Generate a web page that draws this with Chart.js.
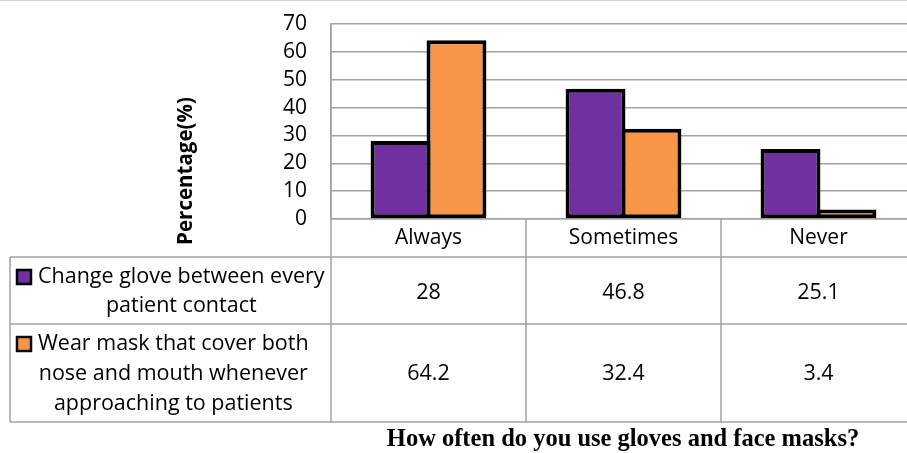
<!DOCTYPE html>
<html>
<head>
<meta charset="utf-8">
<script src="https://cdn.jsdelivr.net/npm/chart.js@4.4.1/dist/chart.umd.min.js"></script>
<style>
  html, body { margin: 0; padding: 0; overflow: hidden; background: #fff; width: 907px; height: 453px; }
  canvas { display: block; }
</style>
</head>
<body>
<canvas id="c" width="916" height="453" style="width:916px;height:453px"></canvas>
<script>
// Survey answers (percent of respondents)
const categories = ['Always', 'Sometimes', 'Never'];
const gloveValues = [28, 46.8, 25.1];
const maskValues = [64.2, 32.4, 3.4];
const gloveLabel = ['Change glove between every', 'patient contact'];
const maskLabel = ['Wear mask that cover both', 'nose and mouth whenever', 'approaching to patients'];
const yMin = 0, yMax = 70, yStep = 10;
const yTitle = 'Percentage(%)';
const chartTitle = 'How often do you use gloves and face masks?';

const PURPLE = '#7030A0';
const ORANGE = '#F79646';
const LINE = '#a3a3a3';
const SANS = '"Open Sans", sans-serif';

// Data table under the axis, the rotated axis title and the caption
const tablePlugin = {
  id: 'dataTable',
  afterDraw(chart) {
    const ctx = chart.ctx;
    const area = chart.chartArea;
    const x = chart.scales.x;
    const n = categories.length;
    const cw = (area.right - area.left) / n;
    const headBottom = 257, row1Bottom = 324, row2Bottom = 422, tableLeft = 10;

    ctx.save();
    ctx.strokeStyle = LINE;
    ctx.lineWidth = 1.5;
    ctx.beginPath();
    // horizontal rules
    [headBottom, row1Bottom, row2Bottom].forEach(y => {
      ctx.moveTo(tableLeft, y); ctx.lineTo(chart.width, y);
    });
    // left edge of legend column
    ctx.moveTo(tableLeft, headBottom); ctx.lineTo(tableLeft, row2Bottom);
    // plot left edge continues through the table
    ctx.moveTo(area.left, area.top); ctx.lineTo(area.left, row2Bottom);
    // column separators
    for (let i = 1; i <= n; i++) {
      const bx = area.left + cw * i;
      ctx.moveTo(bx, area.bottom); ctx.lineTo(bx, row2Bottom);
    }
    ctx.stroke();
    // faint frame line at the very top
    ctx.strokeStyle = '#d4d4d4';
    ctx.lineWidth = 1;
    ctx.beginPath(); ctx.moveTo(0, 0.5); ctx.lineTo(chart.width, 0.5); ctx.stroke();

    // values
    ctx.fillStyle = '#000';
    ctx.font = '21.5px ' + SANS;
    ctx.textAlign = 'center';
    ctx.textBaseline = 'middle';
    const r1c = (headBottom + row1Bottom) / 2 + 2;
    const r2c = (row1Bottom + row2Bottom) / 2 + 1;
    for (let i = 0; i < n; i++) {
      const cx = x.getPixelForValue(i);
      ctx.fillText(String(gloveValues[i]), cx, r1c);
      ctx.fillText(String(maskValues[i]), cx, r2c);
    }

    // legend entries
    const drawEntry = (lines, color, centerY, lh) => {
      const textLeft = 38;
      const maxW = Math.max(...lines.map(l => ctx.measureText(l).width));
      const top = centerY - lh * (lines.length - 1) / 2;
      ctx.fillStyle = color;
      ctx.strokeStyle = '#000';
      ctx.lineWidth = 2.5;
      ctx.fillRect(17, top - 7, 14, 14);
      ctx.strokeRect(17, top - 7, 14, 14);
      ctx.fillStyle = '#000';
      ctx.textAlign = 'center';
      lines.forEach((l, k) => ctx.fillText(l, textLeft + maxW / 2, top + k * lh));
    };
    drawEntry(gloveLabel, PURPLE, r1c - 1, 29);
    drawEntry(maskLabel, ORANGE, r2c, 30);

    // axis title
    ctx.save();
    ctx.translate(186, 171);
    ctx.rotate(-Math.PI / 2);
    ctx.font = 'bold 20.5px ' + SANS;
    ctx.textAlign = 'center';
    ctx.textBaseline = 'middle';
    ctx.fillText(yTitle, 0, 0);
    ctx.restore();

    // caption
    ctx.font = 'bold 24.5px "Liberation Serif", "Times New Roman", serif';
    ctx.textAlign = 'center';
    ctx.textBaseline = 'middle';
    ctx.fillText(chartTitle, 623, 440);
    ctx.restore();
  }
};

new Chart(document.getElementById('c'), {
  type: 'bar',
  data: {
    labels: categories,
    datasets: [
      { label: gloveLabel.join(' '), data: gloveValues, backgroundColor: PURPLE,
        borderColor: '#000', borderWidth: 4, borderSkipped: false,
        categoryPercentage: 0.574, barPercentage: 1.07 },
      { label: maskLabel.join(' '), data: maskValues, backgroundColor: ORANGE,
        borderColor: '#000', borderWidth: 4, borderSkipped: false,
        categoryPercentage: 0.574, barPercentage: 1.07 }
    ]
  },
  options: {
    responsive: false,
    animation: false,
    devicePixelRatio: 1,
    layout: { padding: { top: 24, left: 0, right: 0, bottom: 0 } },
    plugins: { legend: { display: false }, tooltip: { enabled: false }, title: { display: false } },
    scales: {
      x: {
        grid: { display: false, drawTicks: false },
        border: { display: true, color: LINE, width: 1.5 },
        ticks: { color: '#000', font: { family: SANS, size: 21 }, padding: 6, maxRotation: 0 },
        afterFit(s) { s.height = 453 - 219; }
      },
      y: {
        min: yMin, max: yMax,
        grid: { color: LINE, lineWidth: 1.5, drawTicks: false },
        border: { display: true, color: LINE, width: 1.5 },
        ticks: { stepSize: yStep, autoSkip: false, color: '#000', font: { family: SANS, size: 21 }, padding: 24 },
        afterFit(s) { s.width = 331; s.paddingTop = 0; s.paddingBottom = 0; }
      }
    }
  },
  plugins: [tablePlugin]
});
</script>
</body>
</html>
